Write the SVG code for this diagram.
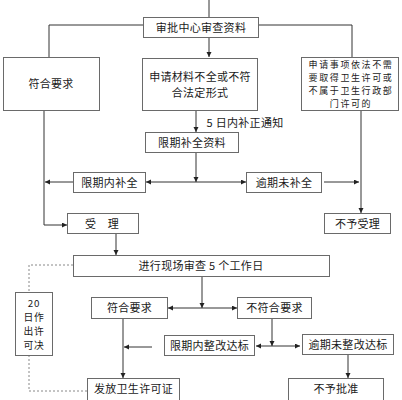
<svg xmlns="http://www.w3.org/2000/svg" width="402" height="400" viewBox="0 0 402 400">
<style>
.box{fill:#fff;stroke:#6a6a6a;stroke-width:1}
.t{font-family:"Noto Sans CJK SC","Liberation Sans",sans-serif;font-size:11px;fill:#1a1a1a;text-anchor:middle;letter-spacing:0.3px}
.s{font-size:9px;letter-spacing:1.6px}
.m{font-size:9.8px;letter-spacing:0.8px}
.c{fill:none;stroke:#333;stroke-width:1}
.a{marker-end:url(#ah)}
.d{fill:none;stroke:#888;stroke-width:1;stroke-dasharray:2,2}
</style>
<defs>
<marker id="ah" markerUnits="userSpaceOnUse" markerWidth="6" markerHeight="6" refX="5" refY="2.5" orient="auto"><path d="M0,0 L5,2.5 L0,5 z" fill="#222"/></marker>
</defs>
<rect width="402" height="400" fill="#fff"/>
<g id="connectors">
<path class="c" d="M209,0 V17"/>
<path class="c" d="M143,25 H49 V57"/>
<path class="c" d="M258,25 H352 V57"/>
<path class="c a" d="M209,37 V57"/>
<path class="c a" d="M196,110 V132"/>
<path class="c a" d="M196,152 V182"/>
<path class="c a" d="M196,182 H146"/>
<path class="c a" d="M196,182 H246"/>
<path class="c a" d="M73,182 H45"/>
<path class="c a" d="M44,110 V225 H67"/>
<path class="c a" d="M324,182 H359"/>
<path class="c a" d="M361,110 V213"/>
<path class="c a" d="M116,233 V255"/>
<path class="d" d="M73,265 H29 V292"/>
<path class="d" d="M29,355 V391 H87"/>
<path class="c a" d="M202,277 V308"/>
<path class="c a" d="M202,308 H168"/>
<path class="c a" d="M202,308 H237"/>
<path class="c a" d="M123,318 V378"/>
<path class="c a" d="M152,347 H124"/>
<path class="c a" d="M272,318 V346"/>
<path class="c a" d="M272,346 H256"/>
<path class="c a" d="M272,346 H300"/>
<path class="c a" d="M348,354 V378"/>
</g>
<g id="n1"><rect class="box" x="143.5" y="17.5" width="115" height="20"/><text class="t" x="201" y="31.5">审批中心审查资料</text></g>
<g id="n2"><rect class="box" x="3.5" y="57.5" width="96" height="53"/><text class="t" x="51" y="88">符合要求</text></g>
<g id="n3"><rect class="box" x="142.5" y="58.5" width="115" height="52"/><text class="t" x="200" y="81">申请材料不全或不符</text><text class="t" x="200" y="97">合法定形式</text></g>
<g id="n4"><rect class="box" x="301.5" y="57.5" width="97" height="53"/><text class="t s" x="351" y="67.5">申请事项依法不需</text><text class="t s" x="351" y="80.7">要取得卫生许可或</text><text class="t s" x="351" y="93.9">不属于卫生行政部</text><text class="t s" x="351" y="107.1">门许可的</text></g>
<text class="t" x="245" y="127">5 日内补正通知</text>
<g id="n5"><rect class="box" x="145.5" y="132.5" width="93" height="20"/><text class="t" x="192" y="146.5">限期补全资料</text></g>
<g id="n6"><rect class="box" x="73.5" y="172.5" width="72" height="20"/><text class="t" x="109.5" y="186.5">限期内补全</text></g>
<g id="n7"><rect class="box" x="246.5" y="172.5" width="75" height="20"/><text class="t" x="284" y="186.5">逾期未补全</text></g>
<g id="n8"><rect class="box" x="67.5" y="213.5" width="71" height="20"/><text class="t" x="102" y="227.5">受　理</text></g>
<g id="n9"><rect class="box" x="324.5" y="213.5" width="66" height="20"/><text class="t" x="357.5" y="227.5">不予受理</text></g>
<g id="n10"><rect class="box" x="73.5" y="255.5" width="256" height="21"/><text class="t" x="201" y="270">进行现场审查 5 个工作日</text></g>
<g id="n11"><rect class="box" x="15.5" y="292.5" width="37" height="63"/><text class="t m" x="34" y="306.5">20</text><text class="t m" x="34" y="320.8">日作</text><text class="t m" x="34" y="335.1">出许</text><text class="t m" x="34" y="349.4">可决</text></g>
<g id="n12"><rect class="box" x="91.5" y="297.5" width="76" height="21"/><text class="t" x="129.5" y="312">符合要求</text></g>
<g id="n13"><rect class="box" x="237.5" y="297.5" width="74" height="21"/><text class="t" x="274.5" y="312">不符合要求</text></g>
<g id="n14"><rect class="box" x="164.5" y="335.5" width="90" height="20"/><text class="t" x="209.5" y="349.5">限期内整改达标</text></g>
<g id="n15"><rect class="box" x="302.5" y="334.5" width="91" height="20"/><text class="t" x="348" y="348.5">逾期未整改达标</text></g>
<g id="n16"><rect class="box" x="87.5" y="378.5" width="92" height="24"/><text class="t" x="133.5" y="393">发放卫生许可证</text></g>
<g id="n17"><rect class="box" x="288.5" y="378.5" width="95" height="24"/><text class="t" x="336" y="393">不予批准</text></g>
</svg>
